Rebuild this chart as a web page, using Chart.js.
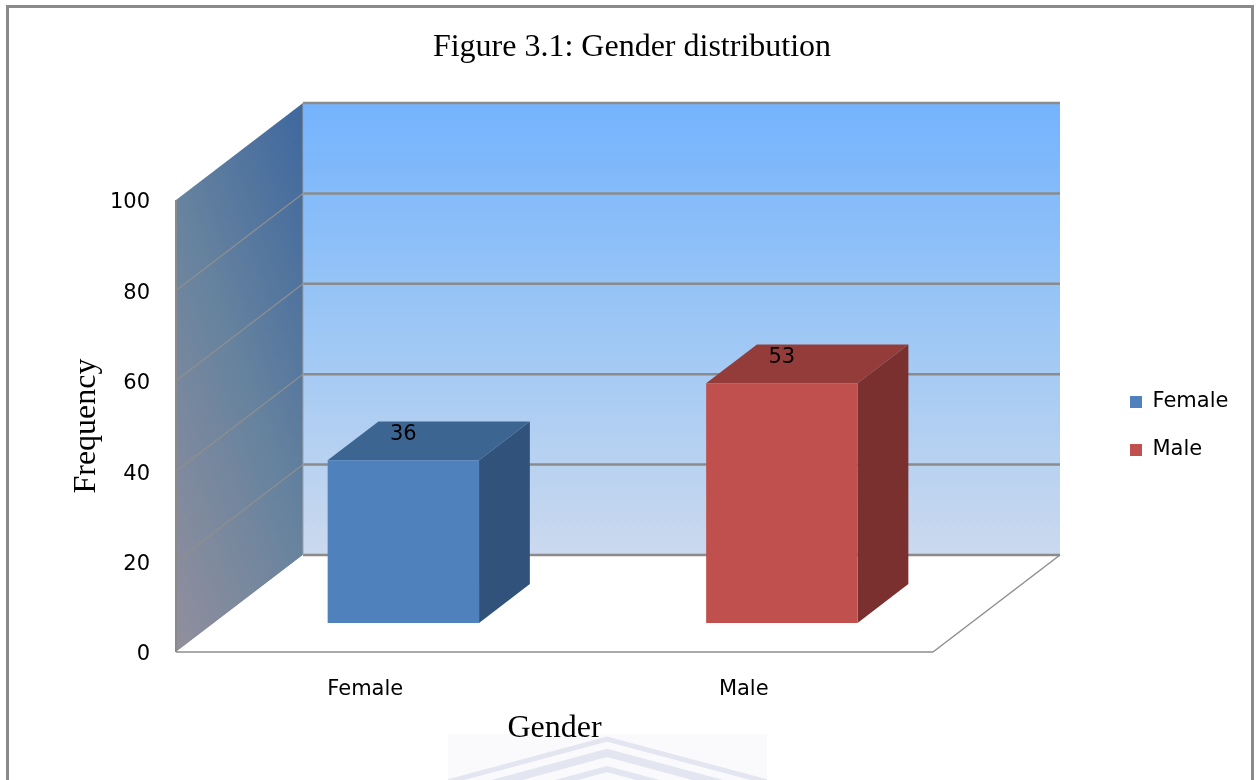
<!DOCTYPE html>
<html>
<head>
<meta charset="utf-8">
<title>Figure 3.1: Gender distribution</title>
<script src="https://cdn.jsdelivr.net/npm/chart.js@4.4.1/dist/chart.umd.min.js"></script>
<style>
  html, body { margin:0; padding:0; background:#ffffff; overflow:hidden; }
  canvas { display:block; }
</style>
</head>
<body>
<canvas id="chart" width="1259" height="780"></canvas>
<script>
// ---------------- data ----------------
const categories = ['Female', 'Male'];
const frequencies = [36, 53];
const yTickValues = [0, 20, 40, 60, 80, 100];
const seriesColors = ['#4f81bd', '#c0504d'];
const seriesTopColors = ['#3d6591', '#933c3a'];
const seriesSideColors = ['#31527b', '#7a302f'];
const chartTitle = 'Figure 3.1: Gender distribution';
const xAxisTitle = 'Gender';
const yAxisTitle = 'Frequency';

// ---------------- layout ----------------
const W = 1259, H = 780;
const AREA = { left: 176, top: 200, right: 933, bottom: 652 };
const DEPTH = { dx: 127, dy: 97, barStart: 0.3, barDepth: 0.4 };
const LEGEND_GAP = 170;
const TITLE_CX = 632, TITLE_CY = 48;
const YTITLE_CX = 87, XTITLE_CY = 729;
const SERIF = '"Liberation Serif", "Times New Roman", serif';
const SANS = '"DejaVu Sans", "Open Sans", sans-serif';
const SANS_SIZE = 21;
const TITLE_SIZE = 32, TITLE_LH = TITLE_SIZE * 1.2;

let padLeft = 28, padRight = 23;
let yAxisWidth = AREA.left - padLeft;

function poly(ctx, pts) {
  ctx.beginPath();
  ctx.moveTo(pts[0][0], pts[0][1]);
  for (let i = 1; i < pts.length; i++) ctx.lineTo(pts[i][0], pts[i][1]);
  ctx.closePath();
}
function line(ctx, x1, y1, x2, y2) {
  ctx.beginPath(); ctx.moveTo(x1, y1); ctx.lineTo(x2, y2); ctx.stroke();
}

const depthPlugin = {
  id: 'depth3d',
  beforeDraw(chart) {
    const { ctx, chartArea: a } = chart;
    const ys = chart.scales.y;
    const { dx, dy } = DEPTH;
    const yb = ys.getPixelForValue(ys.min), yt = ys.getPixelForValue(ys.max);
    const bl = a.left + dx, br = a.right + dx;
    ctx.save();
    // outer frame
    ctx.strokeStyle = '#8a8a8a'; ctx.lineWidth = 3;
    ctx.strokeRect(7.5, 6.5, W - 14, H + 20);
    // faint watermark (page background)
    ctx.save();
    ctx.beginPath(); ctx.rect(448, 734, 319, 50); ctx.clip();
    ctx.fillStyle = '#fafafd'; ctx.fillRect(448, 734, 319, 50);
    ctx.strokeStyle = '#e3e5f1';
    [[739, 5], [753, 8], [769, 6]].forEach(([ay, lw]) => {
      ctx.lineWidth = lw;
      ctx.beginPath();
      ctx.moveTo(440, ay + 45); ctx.lineTo(607, ay); ctx.lineTo(775, ay + 45);
      ctx.stroke();
    });
    ctx.restore();
    // back wall
    let g = ctx.createLinearGradient(0, yt - dy, 0, yb - dy);
    g.addColorStop(0, '#74b3fd');
    g.addColorStop(0.5, '#9dc7f5');
    g.addColorStop(1, '#cbd9ee');
    ctx.fillStyle = g;
    ctx.fillRect(bl, yt - dy, br - bl, yb - yt);
    // side wall
    g = ctx.createLinearGradient(a.left, yb, a.left + 2.25 * dx, yb - 1.05 * dy);
    g.addColorStop(0, '#928f9d');
    g.addColorStop(0.5, '#67839e');
    g.addColorStop(1, '#3f689e');
    ctx.fillStyle = g;
    poly(ctx, [[a.left, yt], [bl, yt - dy], [bl, yb - dy], [a.left, yb]]);
    ctx.fill();
    // floor
    ctx.fillStyle = '#ffffff';
    poly(ctx, [[a.left, yb], [bl, yb - dy], [br, yb - dy], [a.right, yb]]);
    ctx.fill();
    ctx.strokeStyle = '#a9a9a9'; ctx.lineWidth = 2;
    line(ctx, a.left, yb, a.right, yb);
    ctx.strokeStyle = '#8e8e8e'; ctx.lineWidth = 1.5;
    line(ctx, a.right, yb, br, yb - dy);
    // gridlines
    ys.ticks.forEach(t => {
      const py = ys.getPixelForValue(t.value);
      ctx.strokeStyle = '#8b8b8b'; ctx.lineWidth = 2.5;
      line(ctx, bl, py - dy, br, py - dy);
      if (t.value > ys.min && t.value < ys.max) {
        ctx.strokeStyle = '#8f8f8f'; ctx.lineWidth = 1.2;
        line(ctx, a.left, py, bl, py - dy);
      }
    });
    // wall edges
    ctx.strokeStyle = '#8a8a8a'; ctx.lineWidth = 2;
    line(ctx, a.left, yt, a.left, yb);
    ctx.strokeStyle = '#a0a0a0'; ctx.lineWidth = 1;
    line(ctx, bl, yt - dy, bl, yb - dy);
    ctx.restore();
  },
  beforeDatasetsDraw(chart) {
    const { ctx } = chart;
    const { dx, dy, barStart, barDepth } = DEPTH;
    const ox = dx * barStart, oy = -dy * barStart, bx = dx * barDepth, by = -dy * barDepth;
    const meta = chart.getDatasetMeta(0);
    ctx.save();
    meta.data.forEach((el, i) => {
      const { x, y, base, width } = el.getProps(['x', 'y', 'base', 'width'], true);
      const l = x - width / 2 + ox, r = x + width / 2 + ox, t = y + oy, b = base + oy;
      ctx.fillStyle = seriesSideColors[i];
      poly(ctx, [[r, t], [r + bx, t + by], [r + bx, b + by], [r, b]]);
      ctx.fill();
      ctx.fillStyle = seriesTopColors[i];
      poly(ctx, [[l, t], [r, t], [r + bx, t + by], [l + bx, t + by]]);
      ctx.fill();
    });
    ctx.translate(ox, oy);
  },
  afterDatasetsDraw(chart) {
    const { ctx } = chart;
    ctx.restore();
    const { dx, dy, barStart, barDepth } = DEPTH;
    const ox = dx * barStart, oy = -dy * barStart;
    const meta = chart.getDatasetMeta(0);
    const vals = chart.data.datasets[0].data;
    ctx.save();
    ctx.font = SANS_SIZE + 'px ' + SANS;
    ctx.fillStyle = '#000';
    ctx.textAlign = 'center';
    ctx.textBaseline = 'middle';
    meta.data.forEach((el, i) => {
      const { x, y } = el.getProps(['x', 'y'], true);
      ctx.fillText(String(vals[i]), x + ox, y + oy - 0.66 * barDepth * dy);
    });
    ctx.restore();
  }
};

const cfg = {
  type: 'bar',
  data: {
    labels: categories,
    datasets: [{
      label: yAxisTitle,
      data: frequencies,
      backgroundColor: seriesColors,
      borderWidth: 0,
      categoryPercentage: 1,
      barPercentage: 0.4,
      xAxisID: 'x',
      yAxisID: 'y'
    }]
  },
  options: {
    responsive: false,
    maintainAspectRatio: false,
    animation: false,
    devicePixelRatio: 1,
    events: [],
    layout: { padding: { left: padLeft, right: padRight, top: 0, bottom: 0 } },
    scales: {
      x: {
        type: 'category',
        position: 'bottom',
        grid: { display: false, drawTicks: false },
        border: { display: false },
        ticks: { color: '#000', font: { family: SANS, size: SANS_SIZE }, padding: 25, maxRotation: 0, autoSkip: false },
        title: { display: true, text: xAxisTitle, color: '#000', font: { family: SERIF, size: 32, weight: 'normal' },
                 padding: { top: 0, bottom: H - XTITLE_CY - TITLE_LH / 2 } },
        afterFit: s => { s.height = H - AREA.bottom; }
      },
      y: {
        type: 'linear',
        position: 'left',
        min: 0,
        max: 100,
        grid: { display: false, drawTicks: false },
        border: { display: false },
        afterBuildTicks: s => { s.ticks = yTickValues.map(v => ({ value: v })); },
        ticks: { color: '#000', font: { family: SANS, size: SANS_SIZE }, padding: 26, labelOffset: 3 },
        title: { display: true, text: yAxisTitle, color: '#000', font: { family: SERIF, size: 32, weight: 'normal' },
                 padding: { top: YTITLE_CX - padLeft - TITLE_LH / 2, bottom: 0 } },
        afterFit: s => { s.width = yAxisWidth; }
      },
      legendGap: {
        type: 'linear',
        position: 'right',
        display: true,
        grid: { display: false, drawTicks: false },
        border: { display: false },
        ticks: { display: false },
        afterFit: s => { s.width = LEGEND_GAP; }
      }
    },
    plugins: {
      title: {
        display: true,
        text: chartTitle,
        color: '#000',
        font: { family: SERIF, size: TITLE_SIZE, weight: 'normal' },
        padding: { top: TITLE_CY - TITLE_LH / 2, bottom: AREA.top - TITLE_CY - TITLE_LH / 2 }
      },
      legend: {
        display: true,
        position: 'right',
        fullSize: false,
        align: 'center',
        labels: {
          color: '#000',
          font: { family: SANS, size: SANS_SIZE },
          boxWidth: 12,
          boxHeight: 12,
          padding: 27,
          generateLabels: () => categories.map((c, i) => ({
            text: c,
            fillStyle: seriesColors[i],
            strokeStyle: seriesColors[i],
            lineWidth: 0,
            hidden: false,
            index: i,
            fontColor: '#000'
          }))
        }
      },
      tooltip: { enabled: false }
    }
  },
  plugins: [depthPlugin]
};

const chart = new Chart(document.getElementById('chart'), cfg);

function fitLayout() {
  padRight = W - AREA.right - LEGEND_GAP - chart.legend.width;
  padLeft = padRight + (2 * TITLE_CX - W);
  yAxisWidth = AREA.left - padLeft;
  chart.options.layout.padding = { left: padLeft, right: padRight, top: 0, bottom: 0 };
  chart.options.scales.y.title.padding = { top: YTITLE_CX - padLeft - TITLE_LH / 2, bottom: 0 };
  chart.update();
}
fitLayout();
</script>
</body>
</html>
